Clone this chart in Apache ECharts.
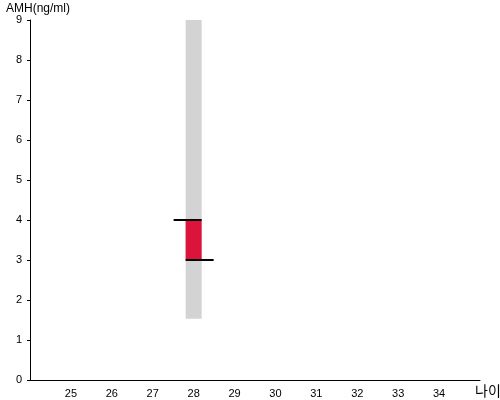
<!DOCTYPE html>
<html><head><meta charset="utf-8">
<script src="https://cdn.jsdelivr.net/npm/echarts@6/dist/echarts.min.js"></script>
<style>html,body{margin:0;padding:0;background:#fff}#c{width:500px;height:400px}</style>
</head><body><div id="c"></div>
<script>
var ages = [28];
var rangeLow = [1.53];
var rangeHigh = [9];
var valueLow = [3];
var valueHigh = [4];
var xTicks = [25,26,27,28,29,30,31,32,33,34];

var data = ages.map(function(a,i){return [a, rangeLow[i], rangeHigh[i], valueLow[i], valueHigh[i]];});
var chart = echarts.init(document.getElementById('c'));
chart.setOption({
  animation:false,
  grid:{left:30,right:20,top:20,bottom:20,containLabel:false,outerBoundsMode:'none'},
  xAxis:{type:'value',min:24,max:35,interval:1,name:'나이',nameLocation:'end',nameGap:0,
    nameTextStyle:{color:'#000',fontSize:14,fontFamily:'Noto Sans CJK KR',verticalAlign:'top',align:'left',padding:[4,0,0,-5]},
    axisLine:{lineStyle:{color:'#000',width:1}},axisTick:{show:false},splitLine:{show:false},
    axisLabel:{color:'#000',fontSize:11,fontFamily:'Arial, Liberation Sans',margin:8,
      formatter:function(v){return xTicks.indexOf(v)>=0?String(v):'';}}},
  yAxis:{type:'value',min:0,max:9,interval:1,name:'AMH(ng/ml)',nameLocation:'end',nameGap:4,
    nameTextStyle:{color:'#000',fontSize:12,fontFamily:'Arial, Liberation Sans',align:'left',padding:[0,0,0,-24]},
    axisLine:{show:true,lineStyle:{color:'#000',width:1}},axisTick:{show:true,length:3,lineStyle:{color:'#000'}},
    splitLine:{show:false},
    axisLabel:{color:'#000',fontSize:11,fontFamily:'Arial, Liberation Sans',margin:8}},
  series:[{type:'custom',data:data,encode:{x:0,y:[1,2,3,4]},
    renderItem:function(params,api){
      var x=api.value(0);
      var pL=api.coord([x,api.value(1)]), pH=api.coord([x,api.value(2)]);
      var vL=api.coord([x,api.value(3)]), vH=api.coord([x,api.value(4)]);
      var w=16, cx=pL[0];
      return {type:'group',children:[
        {type:'rect',shape:{x:cx-w/2,y:pH[1],width:w,height:pL[1]-pH[1]},style:{fill:'#d3d3d3'}},
        {type:'rect',shape:{x:cx-w/2,y:vH[1],width:w,height:vL[1]-vH[1]},style:{fill:'#dc143c'}},
        {type:'line',shape:{x1:cx-20,y1:vH[1],x2:cx+8,y2:vH[1]},style:{stroke:'#000',lineWidth:2}},
        {type:'line',shape:{x1:cx-8,y1:vL[1],x2:cx+20,y2:vL[1]},style:{stroke:'#000',lineWidth:2}}
      ]};
    }}]
});
</script></body></html>
